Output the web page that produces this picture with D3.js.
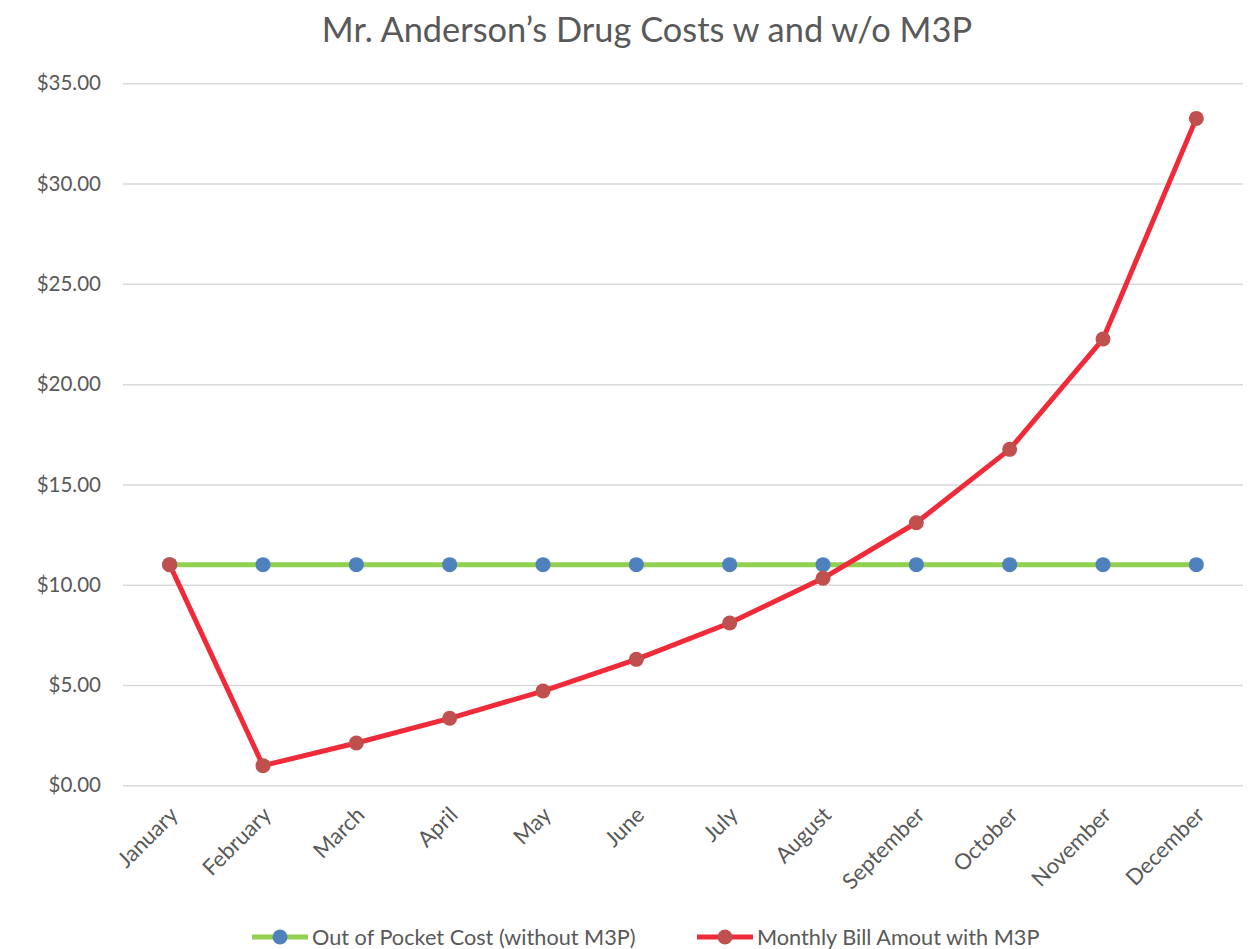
<!DOCTYPE html>
<html>
<head>
<meta charset="utf-8">
<script src="https://cdn.jsdelivr.net/npm/d3@7"></script>
<style>
  html, body { margin: 0; padding: 0; background: #fff; }
  svg text { font-family: Lato, "Open Sans", sans-serif; fill: #595959; }
</style>
</head>
<body>
<svg id="chart" width="1260" height="949"></svg>
<script>
const months = ["January","February","March","April","May","June","July","August","September","October","November","December"];
const outOfPocket = [11.00,11.00,11.00,11.00,11.00,11.00,11.00,11.00,11.00,11.00,11.00,11.00];
const monthlyBill = [11.00,0.98,2.11,3.34,4.70,6.28,8.09,10.32,13.09,16.75,22.25,33.25];
const yTicks = [0,5,10,15,20,25,30,35];
const titleText = "Mr. Anderson\u2019s Drug Costs w and w/o M3P";
const seriesNames = ["Out of Pocket Cost (without M3P)", "Monthly Bill Amout with M3P"];

const svg = d3.select("#chart");
const plotL = 123, plotR = 1243, plotT = 83.3, plotB = 785.3;

const x = d3.scalePoint().domain(months).range([plotL, plotR]).padding(0.5);
const y = d3.scaleLinear().domain([0, 35]).range([plotB, plotT]);

// title
svg.append("text").attr("x", 647).attr("y", 42).attr("text-anchor", "middle")
  .style("font-size", "34.4px").text(titleText);

// gridlines
const yAxis = d3.axisLeft(y).tickValues(yTicks).tickSize(-(plotR - plotL)).tickPadding(22)
  .tickFormat(d => "$" + d3.format(".2f")(d));
const gy = svg.append("g").attr("transform", `translate(${plotL},0)`).call(yAxis);
gy.select(".domain").remove();
gy.selectAll(".tick line").attr("stroke", "#d9d9d9").attr("stroke-width", 1.5);
gy.selectAll(".tick text").style("font-size", "20.5px").attr("fill", "#595959");

// x axis labels
const xAxis = d3.axisBottom(x).tickSize(0).tickPadding(0);
const gx = svg.append("g").attr("transform", `translate(0,${plotB})`).call(xAxis);
gx.select(".domain").remove();
gx.selectAll(".tick text")
  .style("font-size", "22px").attr("fill", "#595959")
  .attr("text-anchor", "end")
  .attr("y", 0).attr("dy", 0)
  .attr("transform", "translate(9,31) rotate(-45)");

const line = d3.line().x((d, i) => x(months[i])).y(d => y(d));

const series = [
  {vals: outOfPocket, line: "#92d050", dot: "#4f81bd"},
  {vals: monthlyBill, line: "#ef2b3a", dot: "#c0504d"}
];

series.forEach(s => {
  svg.append("path").datum(s.vals).attr("d", line)
    .attr("fill", "none").attr("stroke", s.line).attr("stroke-width", 5)
    .attr("stroke-linejoin", "round");
});
series.forEach(s => {
  svg.append("g").selectAll("circle").data(s.vals).join("circle")
    .attr("cx", (d, i) => x(months[i])).attr("cy", d => y(d)).attr("r", 7.5)
    .attr("fill", s.dot);
});

// legend
const legendItems = [
  {name: seriesNames[0], x0: 252, line: "#92d050", dot: "#4f81bd"},
  {name: seriesNames[1], x0: 697, line: "#ef2b3a", dot: "#c0504d"}
];
const ly = 937;
legendItems.forEach(it => {
  const g = svg.append("g");
  g.append("line").attr("x1", it.x0).attr("x2", it.x0 + 56).attr("y1", ly).attr("y2", ly)
    .attr("stroke", it.line).attr("stroke-width", 5);
  g.append("circle").attr("cx", it.x0 + 28).attr("cy", ly).attr("r", 7.5).attr("fill", it.dot);
  g.append("text").attr("x", it.x0 + 60).attr("y", ly).attr("dy", "0.36em")
    .style("font-size", "21.7px").text(it.name);
});
</script>
</body>
</html>
